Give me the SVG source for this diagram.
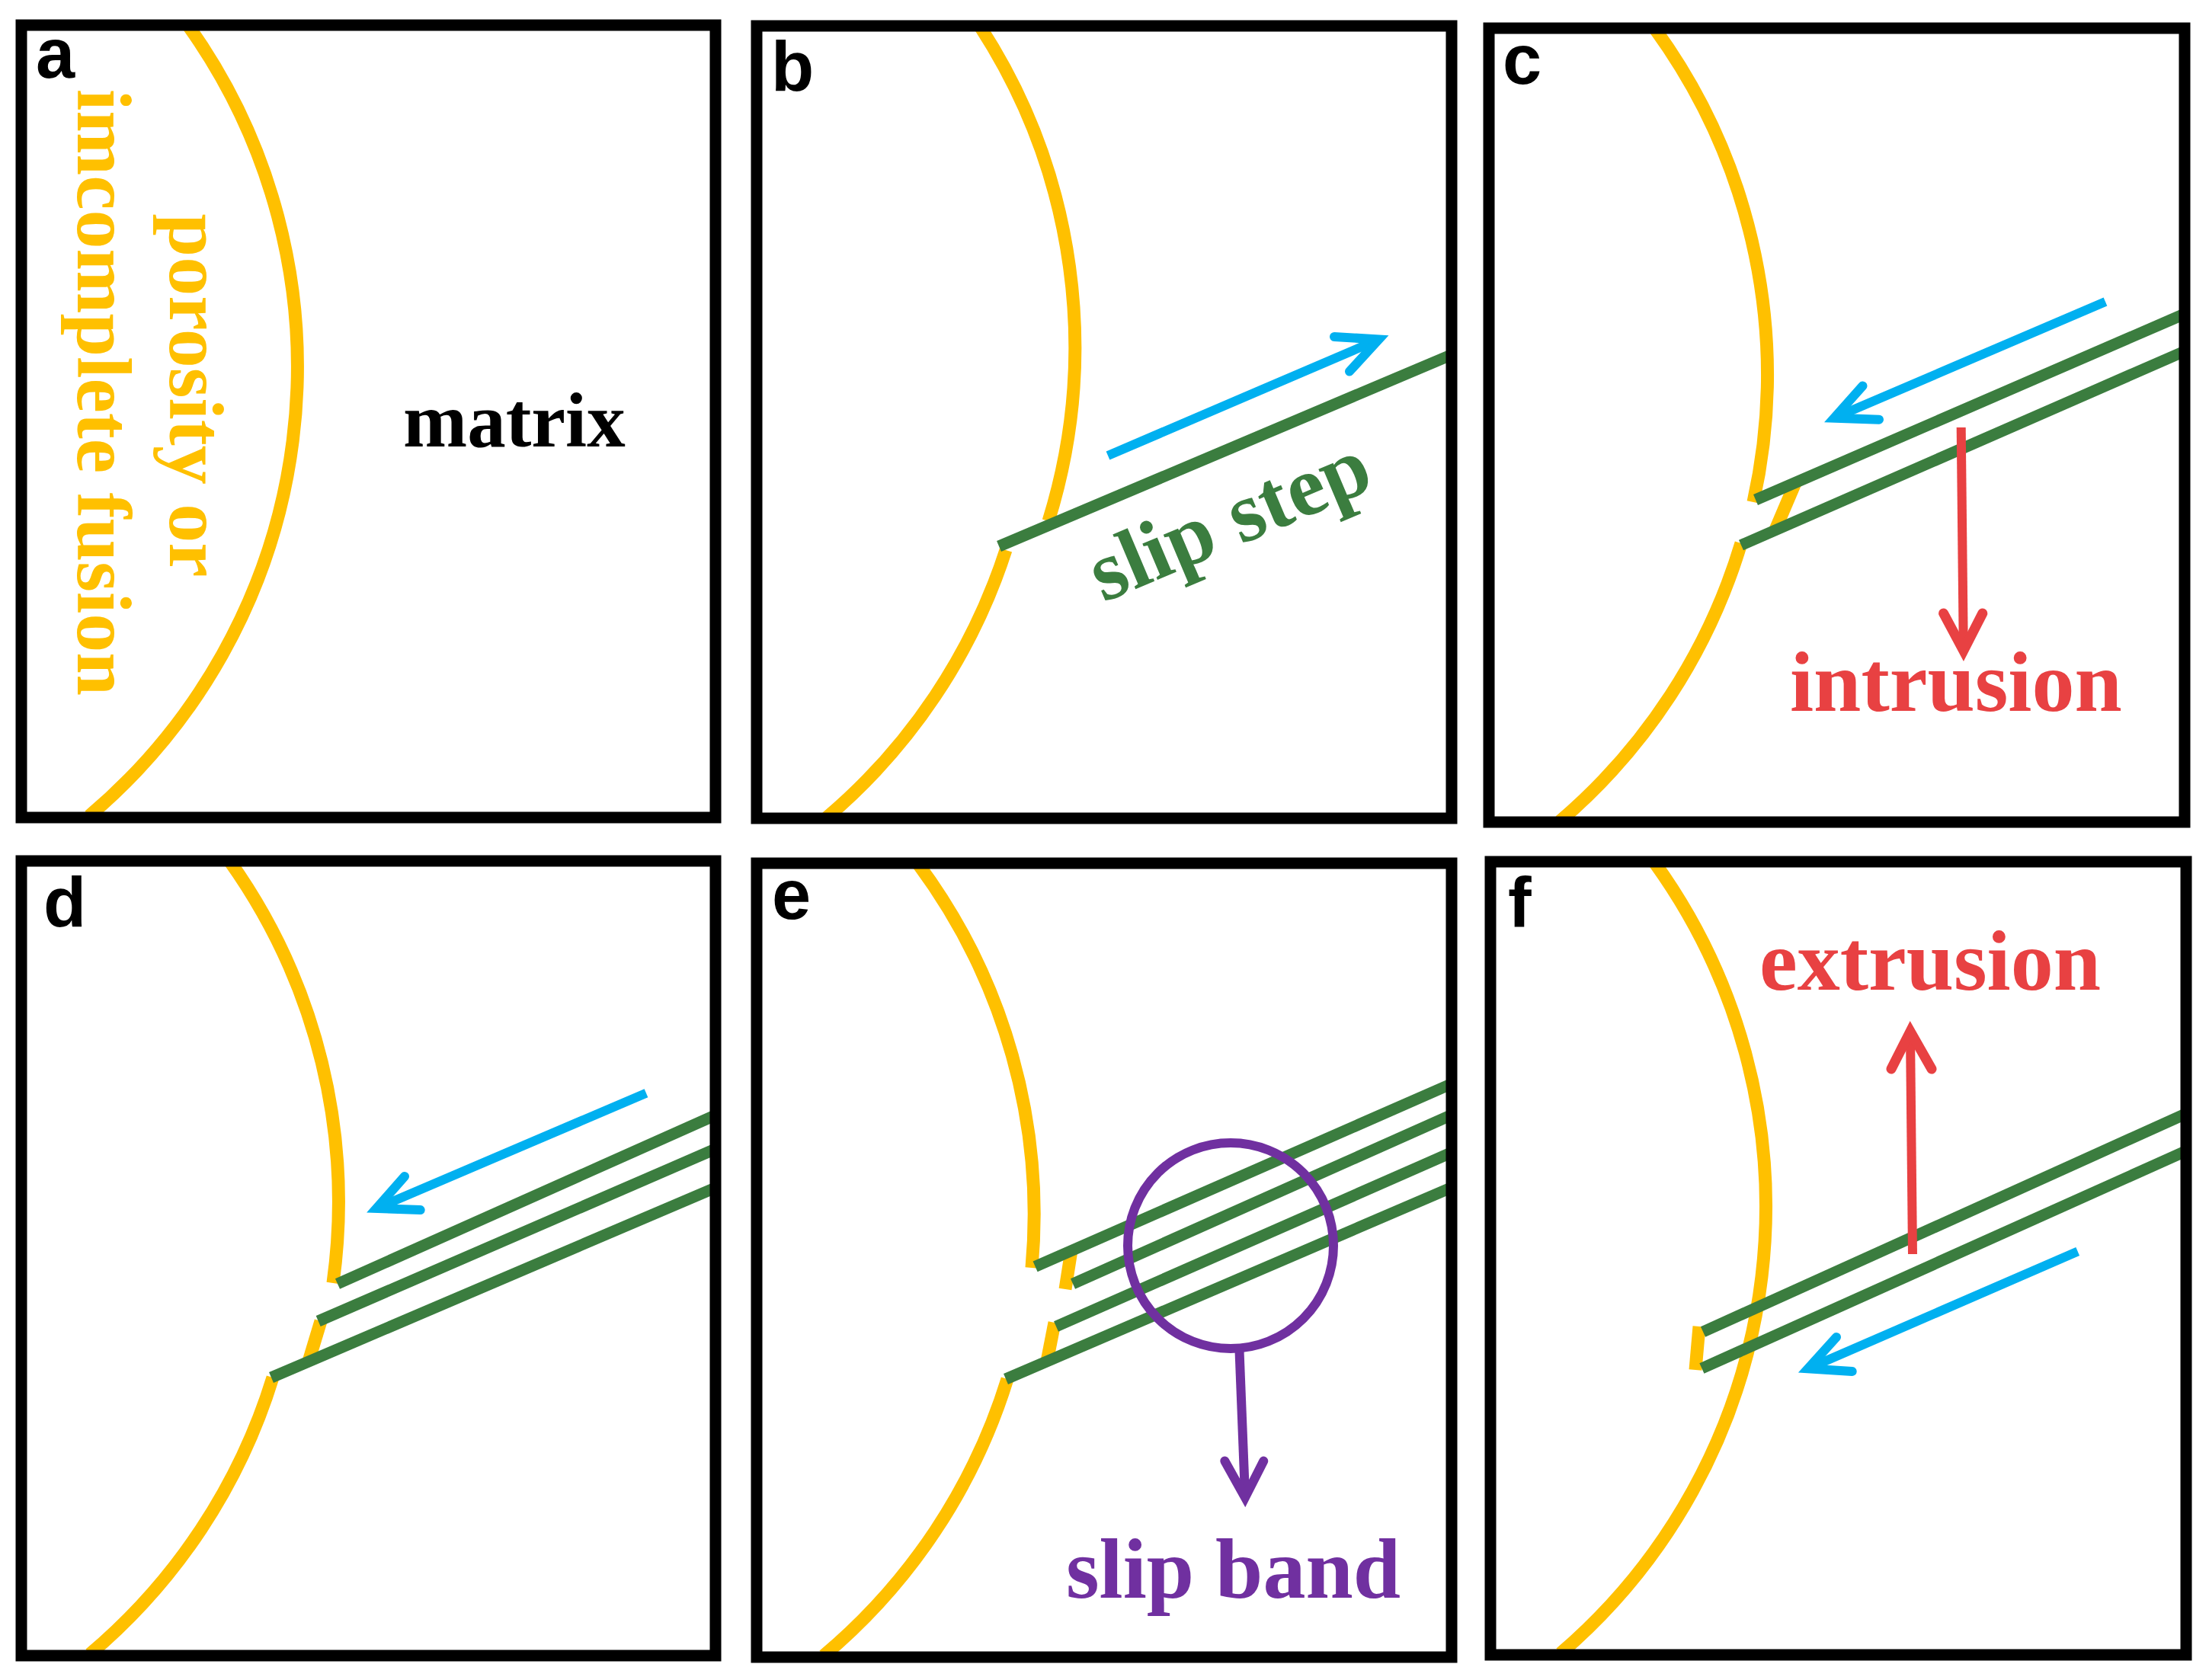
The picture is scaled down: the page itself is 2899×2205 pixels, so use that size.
<svg xmlns="http://www.w3.org/2000/svg" width="2899" height="2205" viewBox="0 0 2899 2205">
<style>
.frame{fill:none;stroke:#000;stroke-width:15}
.arc{fill:none;stroke:#FFC000;stroke-width:17}
.slip{fill:none;stroke:#3B7D3F;stroke-width:15}
.blue{fill:none;stroke:#00B0F0;stroke-width:12;stroke-linecap:butt}
.bluehead{fill:none;stroke:#00B0F0;stroke-width:12;stroke-linecap:round;stroke-linejoin:miter}
.red{fill:none;stroke:#E84142;stroke-width:12}
.redhead{fill:none;stroke:#E84142;stroke-width:13;stroke-linecap:round;stroke-linejoin:miter}
.pur{fill:none;stroke:#7030A0;stroke-width:12}
.purhead{fill:none;stroke:#7030A0;stroke-width:12;stroke-linecap:round;stroke-linejoin:miter}
.lab{font-family:"Liberation Sans",Arial,sans-serif;font-weight:bold;font-size:92px;fill:#000}
.ser{font-family:"Liberation Serif","Times New Roman",serif;font-weight:bold}
</style>
<rect width="2899" height="2205" fill="#fff"/>

<g id="panel-a">
<path class="arc" d="M 248 35 A 772 772 0 0 1 117 1071"/>
<text class="ser" x="529" y="586" font-size="101" fill="#000">matrix</text>
<text class="ser" transform="translate(223,519) rotate(90)" text-anchor="middle" font-size="102" fill="#FFC000">porosity or</text>
<text class="ser" transform="translate(102,515) rotate(90)" text-anchor="middle" font-size="102" fill="#FFC000">imcomplete fusion</text>
<rect class="frame" x="28" y="33" width="911" height="1040"/>
<text class="lab" x="47" y="102">a</text>
</g>

<g id="panel-b">
<path class="arc" d="M 1287 36 A 772 772 0 0 1 1376 684"/>
<path class="arc" d="M 1320 722 A 772 772 0 0 1 1085 1073"/>
<line class="slip" x1="1311" y1="717" x2="1905" y2="465.6"/>
<text class="ser" transform="translate(1448,791) rotate(-22.9)" font-size="112" fill="#3B7D3F">slip step</text>
<rect class="frame" x="993" y="34" width="912" height="1040"/>
<text class="lab" x="1012" y="119">b</text>
</g>

<g id="panel-c">
<path class="arc" d="M 2172 38 A 772 772 0 0 1 2301 659"/>
<path class="arc" d="M 2356 634 L 2330 695"/>
<path class="arc" d="M 2285 713 A 772 772 0 0 1 2047 1078"/>
<line class="slip" x1="2304" y1="656" x2="2867" y2="412"/>
<line class="slip" x1="2285" y1="715.5" x2="2867" y2="461"/>
<text class="ser" x="2349" y="933" font-size="112" fill="#E84142">intrusion</text>
<rect class="frame" x="1954" y="37" width="913" height="1042"/>
<text class="lab" x="1972" y="110">c</text>
</g>

<g id="panel-d">
<path class="arc" d="M 302 1131 A 772 772 0 0 1 437 1684"/>
<path class="arc" d="M 421 1734 L 405 1787"/>
<path class="arc" d="M 358 1808 A 772 772 0 0 1 118 2171"/>
<line class="slip" x1="443" y1="1685" x2="939" y2="1463.6"/>
<line class="slip" x1="417.7" y1="1734" x2="939" y2="1508"/>
<line class="slip" x1="356" y1="1808" x2="939" y2="1558.8"/>
<rect class="frame" x="28" y="1130" width="911" height="1043"/>
<text class="lab" x="57" y="1216">d</text>
</g>

<g id="panel-e">
<path class="arc" d="M 1205 1134 A 772 772 0 0 1 1354 1664"/>
<path class="arc" d="M 1406 1641 L 1398 1692"/>
<path class="arc" d="M 1384 1736 L 1374 1787"/>
<path class="arc" d="M 1322 1810 A 772 772 0 0 1 1081 2173"/>
<line class="slip" x1="1358.6" y1="1662.4" x2="1905" y2="1422.5"/>
<line class="slip" x1="1408" y1="1685" x2="1905" y2="1463.4"/>
<line class="slip" x1="1386" y1="1741" x2="1905" y2="1512.7"/>
<line class="slip" x1="1320" y1="1810" x2="1905" y2="1558.6"/>
<circle class="pur" cx="1615" cy="1635" r="135"/>
<text class="ser" x="1399" y="2097" font-size="112" fill="#7030A0">slip band</text>
<rect class="frame" x="993" y="1133" width="912" height="1042"/>
<text class="lab" x="1013" y="1206">e</text>
</g>

<g id="panel-f">
<path class="arc" d="M 2172 1133 A 772 772 0 0 1 2048 2170"/>
<path class="arc" d="M 2230 1741 L 2225 1798"/>
<line class="slip" x1="2235" y1="1748" x2="2869" y2="1461.6"/>
<line class="slip" x1="2233.4" y1="1796" x2="2869" y2="1510.6"/>
<text class="ser" x="2309" y="1299" font-size="112" fill="#E84142">extrusion</text>
<rect class="frame" x="1956" y="1131" width="913" height="1041"/>
<text class="lab" x="1979" y="1216">f</text>
</g>

<g id="connectors">
<line class="blue" x1="1454" y1="598" x2="1809.5" y2="445.5"/>
<polyline class="bluehead" points="1751,442 1809.5,445.5 1771,487.5"/>
<line class="blue" x1="2763" y1="396" x2="2407" y2="548.6"/>
<polyline class="bluehead" points="2444.5,506.5 2407,548.6 2466,550.7"/>
<line class="blue" x1="848" y1="1434.7" x2="494" y2="1586"/>
<polyline class="bluehead" points="531,1544 494,1586 551.7,1588"/>
<line class="blue" x1="2726.7" y1="1642.6" x2="2372.7" y2="1796.3"/>
<polyline class="bluehead" points="2410,1755 2372.7,1796.3 2430.7,1800"/>
<line class="red" x1="2573.7" y1="561" x2="2576.8" y2="852"/>
<polyline class="redhead" points="2550.6,805 2576.8,854 2601.8,805"/>
<line class="red" x1="2510" y1="1646" x2="2507" y2="1356"/>
<polyline class="redhead" points="2482,1403 2507,1353.7 2535,1403"/>
<line class="pur" x1="1626.4" y1="1770" x2="1634" y2="1963"/>
<polyline class="purhead" points="1607.3,1917.5 1634,1965.4 1658.3,1917.5"/>
</g>
</svg>
